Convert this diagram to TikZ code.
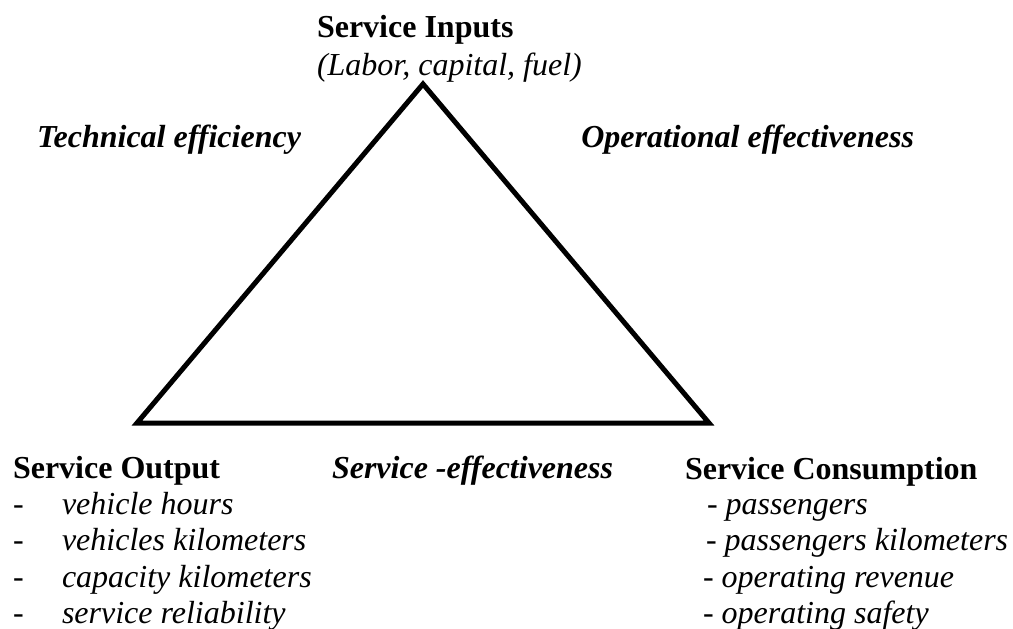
\documentclass[tikz,border=0pt]{standalone}
\usepackage{fontspec}
\setmainfont{Liberation Serif}
\begin{document}
\begin{tikzpicture}[x=1pt,y=-1pt,
  lbl/.style={inner sep=0pt,outer sep=0pt,anchor=base west,font=\fontsize{32}{36}\selectfont},
  head/.style={lbl,font=\fontsize{32}{36}\selectfont\bfseries},
  side/.style={lbl,font=\fontsize{32}{36}\selectfont\bfseries\itshape},
  item/.style={lbl,font=\fontsize{32}{36}\selectfont\itshape},
  edge/.style={draw=black,line width=5pt,line join=miter}]
\useasboundingbox (0,0) rectangle (1013,629);
% triangle
\coordinate (A) at (423,84);
\coordinate (B) at (137,423);
\coordinate (C) at (709,423);
\draw[edge] (A) -- (B) -- (C) -- cycle;
% top
\node[head] (inp) at (317,37) {Service Inputs};
\node[item] (inpd) at (317,75) {(Labor, capital, fuel)};
\node[side] (tech) at (37,147) {Technical efficiency};
\node[side,anchor=base east] (oper) at (914,147) {Operational effectiveness};
% bottom
\node[head] (out) at (13,478) {Service Output};
\node[side] (serv) at (332,478) {Service -effectiveness};
\node[head] (cons) at (685,479) {Service Consumption};
% left list
\foreach \y/\t [count=\i] in {514/vehicle hours,550/vehicles kilometers,587/capacity kilometers,623/service reliability}{
  \node[lbl] (ld\i) at (13,\y) {-};
  \node[item] (lt\i) at (62,\y) {\t};
}
% right list
\node[item] (r1) at (707,514) {- passengers};
\node[item] (r2) at (706,550) {- passengers kilometers};
\node[item] (r3) at (703,587) {- operating revenue};
\node[item] (r4) at (703,623) {- operating safety};
\end{tikzpicture}
\end{document}
